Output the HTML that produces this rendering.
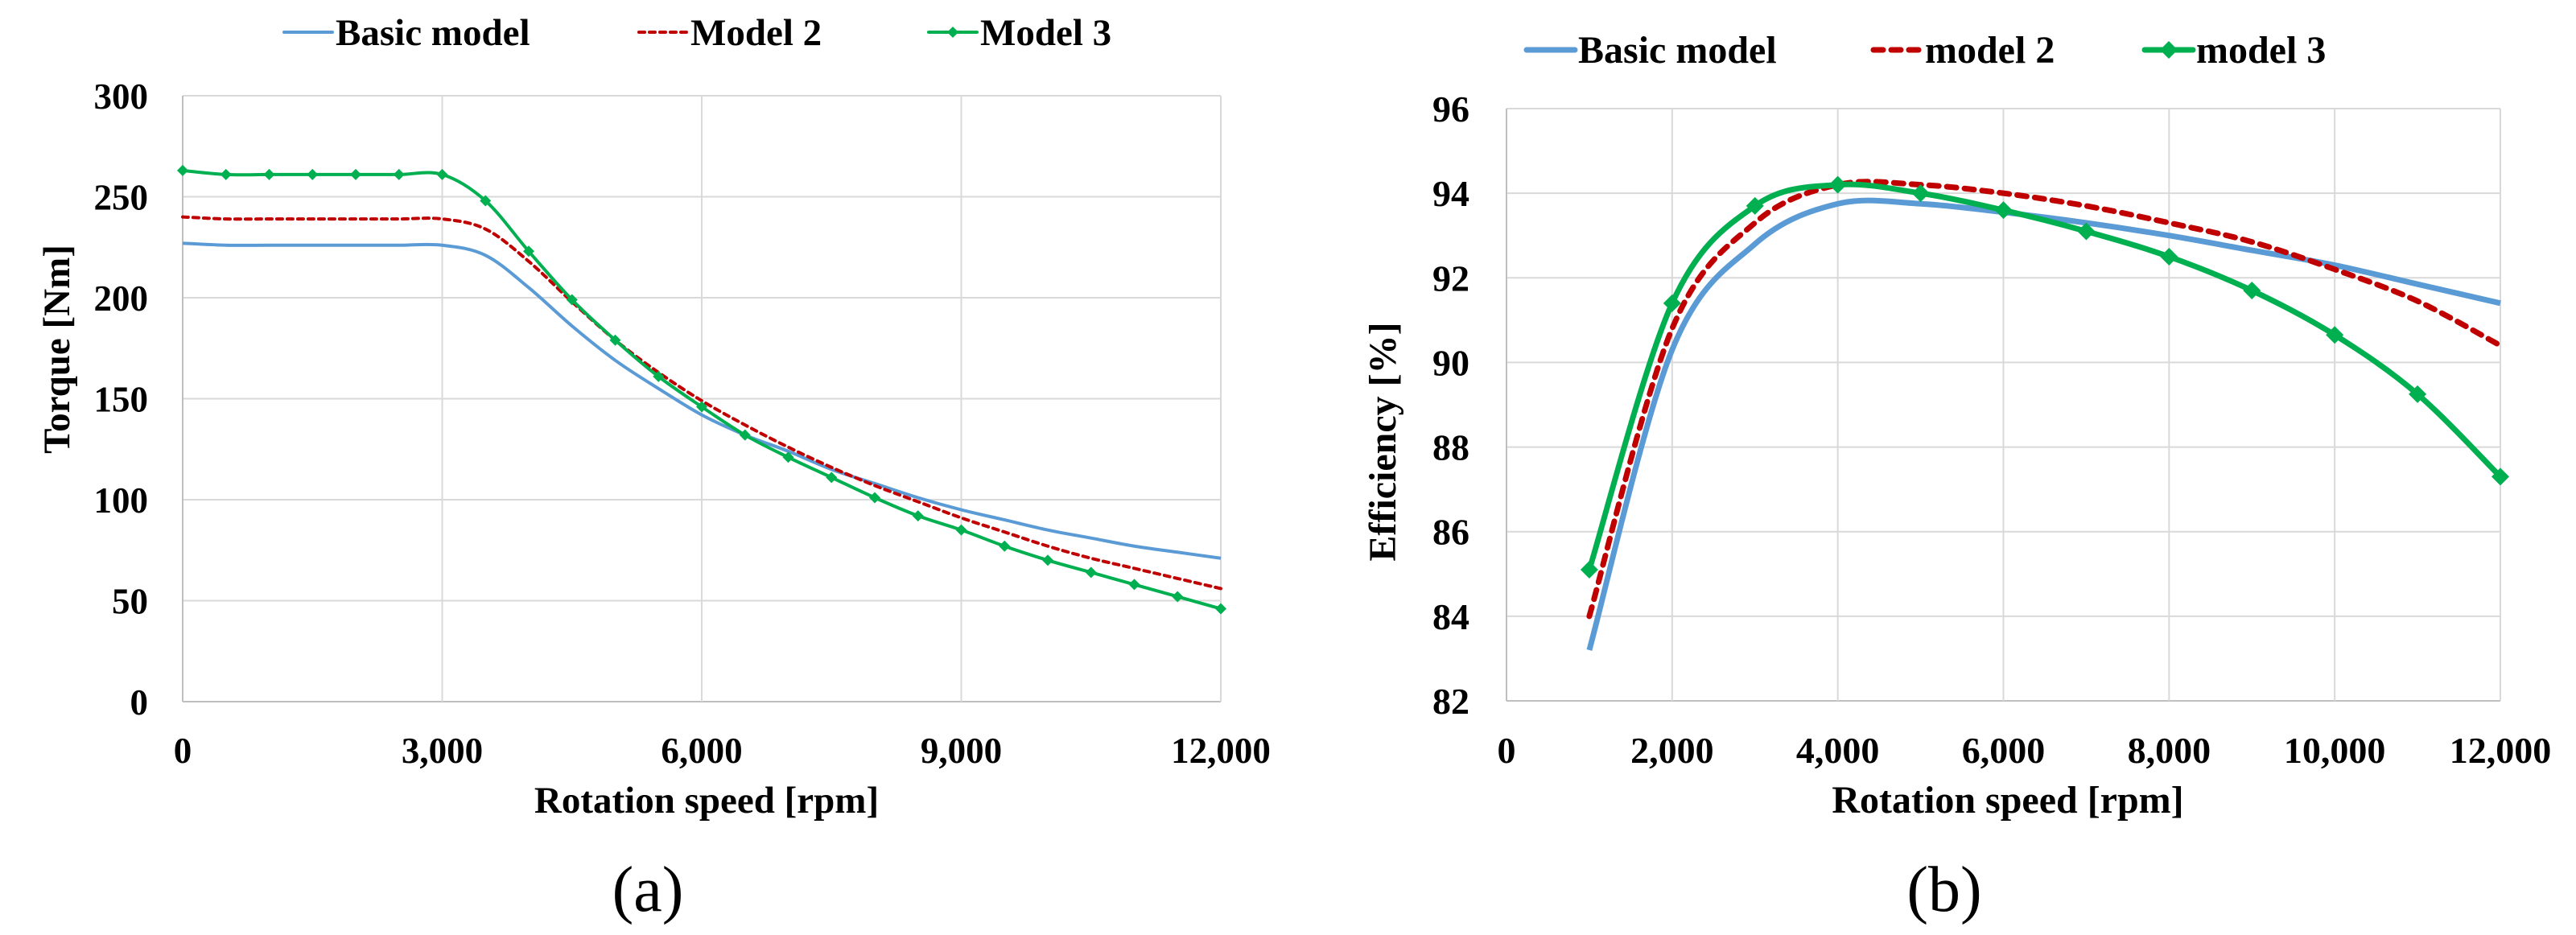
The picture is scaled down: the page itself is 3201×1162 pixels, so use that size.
<!DOCTYPE html>
<html><head><meta charset="utf-8">
<style>
html,body{margin:0;padding:0;background:#fff;}
svg{display:block;}
text{font-family:"Liberation Serif",serif;font-weight:bold;fill:#000;}
text.cap{font-weight:normal;}
</style></head>
<body>
<svg id="fig" width="3201" height="1162" viewBox="0 0 3201 1162" xmlns="http://www.w3.org/2000/svg">
<g id="chartA"></g>
<g id="chartB"></g>
</svg>
<script>
// ---- Chart (a) data ----
const torqueX = [0,500,1000,1500,2000,2500,3000,3500,4000,4500,5000,5500,6000,6500,7000,7500,8000,8500,9000,9500,10000,10500,11000,11500,12000];
const torqueBasic = [227,226,226,226,226,226,226,221,205,186,169,155,142,132,124,115,108,101,95,90,85,81,77,74,71];
const torqueModel2 = [240,239,239,239,239,239,239,234,218,198,179,163,149,137,126,116,107,99,91,84,77,71,66,61,56];
const torqueModel3 = [263,261,261,261,261,261,261,248,223,199,179,161,146,132,121,111,101,92,85,77,70,64,58,52,46];
const torqueYTicks = [0,50,100,150,200,250,300];
const torqueXTicks = [0,3000,6000,9000,12000];
const torqueLegend = ["Basic model","Model 2","Model 3"];
// ---- Chart (b) data ----
const effX = [1000,2000,3000,4000,5000,6000,7000,8000,9000,10000,11000,12000];
const effBasic = [83.2,90.3,92.8,93.75,93.75,93.55,93.3,93.0,92.65,92.3,91.85,91.4];
const effModel2 = [84.0,90.8,93.3,94.2,94.2,94.0,93.7,93.3,92.85,92.2,91.45,90.4];
const effModel3 = [85.1,91.4,93.7,94.2,94.0,93.6,93.1,92.5,91.7,90.65,89.25,87.3];
const effYTicks = [82,84,86,88,90,92,94,96];
const effXTicks = [0,2000,4000,6000,8000,10000,12000];
const effLegend = ["Basic model","model 2","model 3"];

const NS="http://www.w3.org/2000/svg";
function mk(parent,tag,attrs,txt){const e=document.createElementNS(NS,tag);for(const k in attrs)e.setAttribute(k,attrs[k]);if(txt!==undefined)e.textContent=txt;parent.appendChild(e);return e;}
function fmt(v){return v.toLocaleString('en-US');}
function smooth(pts){
  let d="M"+pts[0][0]+","+pts[0][1];
  for(let i=0;i<pts.length-1;i++){
    const p0=pts[i-1]||pts[i],p1=pts[i],p2=pts[i+1],p3=pts[i+2]||p2;
    const t=6;
    const c1=[p1[0]+(p2[0]-p0[0])/t,p1[1]+(p2[1]-p0[1])/t];
    const c2=[p2[0]-(p3[0]-p1[0])/t,p2[1]-(p3[1]-p1[1])/t];
    d+=" C"+c1[0]+","+c1[1]+" "+c2[0]+","+c2[1]+" "+p2[0]+","+p2[1];
  }
  return d;
}
function drawChart(g,cfg){
  const sx=v=>cfg.x0+(v-cfg.xmin)/(cfg.xmax-cfg.xmin)*(cfg.x1-cfg.x0);
  const sy=v=>cfg.y0-(v-cfg.ymin)/(cfg.ymax-cfg.ymin)*(cfg.y0-cfg.y1);
  cfg.yTicks.forEach(v=>{
    const l=mk(g,'line',{x1:cfg.x0,x2:cfg.x1,y1:sy(v),y2:sy(v),stroke:v===cfg.ymin?'#bfbfbf':'#d9d9d9','stroke-width':2});
    
    
    const t=mk(g,'text',{x:cfg.ylabR,y:sy(v)+16,'text-anchor':'end','font-size':cfg.fs},String(v));
    
    
  });
  cfg.xTicks.forEach(v=>{
    const l=mk(g,'line',{x1:sx(v),x2:sx(v),y1:cfg.y1,y2:cfg.y0,stroke:v===cfg.xmin?'#bfbfbf':'#d9d9d9','stroke-width':2});
    
    
    const t=mk(g,'text',{x:sx(v),y:cfg.xlabY,'text-anchor':'middle','font-size':cfg.fs},fmt(v));
    
    
  });
  const xt=mk(g,'text',{x:cfg.xtitleX,y:cfg.xtitleY,'text-anchor':'middle','font-size':cfg.fs+2},'Rotation speed [rpm]');
  
  
  const yt=mk(g,'text',{x:0,y:0,'text-anchor':'middle','font-size':cfg.fs+2,transform:'translate('+cfg.ytitleX+','+cfg.ytitleY+') rotate(-90)'},cfg.ytitle);
  
  
  const cap=mk(g,'text',{x:cfg.capX,y:1132,'text-anchor':'middle','font-size':80,'class':'cap',style:'font-weight:normal'},cfg.cap);
  
  
  const styles=[
    {c:'#5b9bd5',dash:null,name:'series-basic-model'},
    {c:'#c00000',dash:cfg.dash,name:'series-model-2'},
    {c:'#00b050',dash:null,name:'series-model-3'}];
  cfg.series.forEach((s,i)=>{
    const pts=s.x.map((xv,j)=>[sx(xv),sy(s.y[j])]);
    const p=mk(g,'path',{d:smooth(pts),fill:'none',stroke:styles[i].c,'stroke-width':cfg.lw,'stroke-linecap':styles[i].dash?'round':'butt','stroke-linejoin':'round'});
    if(styles[i].dash)p.setAttribute('stroke-dasharray',styles[i].dash);
    
    
    if(i===2){
      pts.forEach(q=>{
        const m=cfg.ms;
        const d=mk(g,'path',{d:`M${q[0]},${q[1]-m} L${q[0]+m},${q[1]} L${q[0]},${q[1]+m} L${q[0]-m},${q[1]} Z`,fill:styles[i].c});
        
        
      });
    }
    const L=cfg.leg[i];
    const ll=mk(g,'line',{x1:L[0],x2:L[0]+60,y1:cfg.legY,y2:cfg.legY,stroke:styles[i].c,'stroke-width':cfg.lw,'stroke-linecap':'round'});
    if(styles[i].dash)ll.setAttribute('stroke-dasharray',styles[i].dash);
    
    
    if(i===2){const m=cfg.ms;const lm=mk(g,'path',{d:`M${L[0]+30},${cfg.legY-m} l${m},${m} l${-m},${m} l${-m},${-m} Z`,fill:styles[i].c});
      
      }
    const lt=mk(g,'text',{x:L[0]+64,y:cfg.legY+16,'font-size':cfg.fs+2},cfg.legNames[i]);
    
    
  });
}
drawChart(document.getElementById('chartA'),{
  x0:227,x1:1517,y0:872,y1:119,xmin:0,xmax:12000,ymin:0,ymax:300,
  yTicks:torqueYTicks,xTicks:torqueXTicks,ylabR:184,xlabY:948,fs:45,
  xtitleX:878,xtitleY:1010,ytitle:'Torque [Nm]',ytitleX:86,ytitleY:434,
  cap:'(a)',capX:805,lw:4,ms:7,dash:'7 6',
  series:[{x:torqueX,y:torqueBasic},{x:torqueX,y:torqueModel2},{x:torqueX,y:torqueModel3}],
  leg:[[353],[794],[1154]],legY:40,legNames:torqueLegend
});
drawChart(document.getElementById('chartB'),{
  x0:1872,x1:3107,y0:871,y1:135,xmin:0,xmax:12000,ymin:82,ymax:96,
  yTicks:effYTicks,xTicks:effXTicks,ylabR:1826,xlabY:948,fs:46,
  xtitleX:2495,xtitleY:1010,ytitle:'Efficiency [%]',ytitleX:1734,ytitleY:549,
  cap:'(b)',capX:2416,lw:7,ms:11,dash:'12 10',
  series:[{x:effX,y:effBasic},{x:effX,y:effModel2},{x:effX,y:effModel3}],
  leg:[[1897],[2328],[2665]],legY:62,legNames:effLegend
});
</script>
</body></html>
